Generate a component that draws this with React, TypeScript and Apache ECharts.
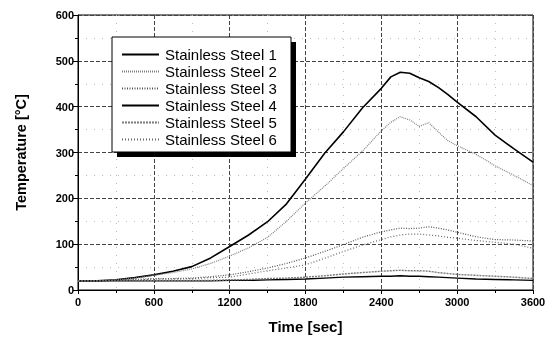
import React, { useEffect, useRef } from "react";
import * as echarts from "echarts";

const times = [0, 150, 300, 450, 600, 750, 900, 1050, 1200, 1350, 1500, 1650, 1800, 1950, 2100, 2250, 2400, 2475, 2550, 2625, 2700, 2775, 2850, 2925, 3000, 3150, 3300, 3450, 3600];
const ss1 = [20, 20, 22, 27, 33, 41, 51, 70, 95, 120, 149, 188, 242, 298, 345, 397, 440, 465, 475, 473, 463, 455, 442, 427, 410, 378, 338, 308, 279];
const ss2 = [20, 20, 22, 26, 32, 38, 46, 58, 74, 92, 115, 150, 190, 226, 265, 303, 347, 366, 378, 371, 357, 365, 345, 326, 315, 296, 271, 250, 228];
const ss3 = [20, 20, 21, 23, 25, 25, 26, 29, 33, 40, 48, 58, 70, 84, 99, 115, 127, 131, 135, 134, 135, 138, 135, 131, 126, 116, 110, 109, 107];
const ss4 = [20, 20, 20, 20, 20, 20, 20, 20, 21, 21, 22, 23, 24, 26, 28, 29, 30, 30, 31, 30, 30, 29, 28, 27, 26, 24, 23, 22, 21];
const ss5 = [20, 20, 20, 20, 21, 21, 21, 21, 22, 23, 25, 26, 28, 31, 35, 38, 41, 42, 43, 42, 42, 41, 38, 36, 34, 32, 30, 28, 25];
const ss6 = [20, 20, 21, 22, 24, 24, 25, 27, 28, 35, 42, 48, 55, 69, 84, 98, 110, 116, 120, 122, 122, 120, 118, 115, 113, 108, 104, 100, 91];

const names = ["Stainless Steel 1", "Stainless Steel 2", "Stainless Steel 3", "Stainless Steel 4", "Stainless Steel 5", "Stainless Steel 6"];
const values = [ss1, ss2, ss3, ss4, ss5, ss6];

const FONT = "'Liberation Sans', Arial, sans-serif";

export default function App() {
  const ref = useRef<HTMLDivElement>(null);
  useEffect(() => {
    document.body.style.margin = "0";
    const chart = echarts.init(ref.current!, undefined, { renderer: "svg" });
    const styles = [
      { color: "#000", width: 1.6, type: "solid" },
      { color: "#808080", width: 1.2, type: [1, 1] },
      { color: "#555", width: 1.2, type: [1, 1.5] },
      { color: "#000", width: 1.4, type: "solid" },
      { color: "#7a7a7a", width: 1.4, type: [2, 1] },
      { color: "#666", width: 1.2, type: [1, 2] },
    ];
    const series = names.map((n, i) => ({
      name: n,
      type: "line",
      symbol: "none",
      z: 2,
      data: times.map((t, j) => [t, values[i][j]]),
      lineStyle: styles[i],
      itemStyle: { color: styles[i].color },
    }));
    chart.setOption({
      animation: false,
      textStyle: { fontFamily: FONT },
      grid: { left: 78, right: 27, top: 15, bottom: 47, show: true, borderColor: "#000", borderWidth: 1, backgroundColor: "transparent" },
      xAxis: {
        type: "value",
        min: 0,
        max: 3600,
        interval: 600,
        name: "Time [sec]",
        nameLocation: "middle",
        nameGap: 29,
        nameTextStyle: { fontSize: 15, fontWeight: "bold", color: "#000", fontFamily: FONT },
        axisLine: { lineStyle: { color: "#000", width: 1 } },
        axisTick: { show: true, inside: false, length: 4, lineStyle: { color: "#000" } },
        minorTick: { show: true, splitNumber: 2, length: 3, lineStyle: { color: "#000" } },
        axisLabel: { fontSize: 11, fontWeight: "bold", color: "#000", margin: 6, fontFamily: FONT, formatter: (v: number) => String(v) },
        splitLine: { show: true, lineStyle: { color: "#444", type: [4, 2], width: 1 } },
        minorSplitLine: { show: true, lineStyle: { color: "#bbb", type: [1, 7], width: 1 } },
      },
      yAxis: {
        type: "value",
        min: 0,
        max: 600,
        interval: 100,
        name: "Temperature [°C]",
        nameLocation: "middle",
        nameGap: 50,
        nameTextStyle: { fontSize: 14.5, fontWeight: "bold", color: "#000", fontFamily: FONT },
        axisLine: { show: true, lineStyle: { color: "#000", width: 1 } },
        axisTick: { show: true, inside: false, length: 5, lineStyle: { color: "#000" } },
        minorTick: { show: true, splitNumber: 2, length: 3, lineStyle: { color: "#000" } },
        axisLabel: { fontSize: 11, fontWeight: "bold", color: "#000", margin: 4, fontFamily: FONT, formatter: (v: number) => String(v) },
        splitLine: { show: true, lineStyle: { color: "#444", type: [4, 2], width: 1 } },
        minorSplitLine: { show: true, lineStyle: { color: "#bbb", type: [1, 7], width: 1 } },
      },
      legend: {
        orient: "vertical",
        left: 121,
        top: 47,
        padding: 0,
        itemWidth: 37,
        itemHeight: 14,
        itemGap: 2,
        z: 5,
        itemStyle: { opacity: 0 },
        textStyle: { fontSize: 15, color: "#000", fontFamily: FONT, padding: [0, 0, 0, 1] },
        data: names,
      },
      graphic: [
        { type: "rect", z: 4, shape: { x: 117, y: 42, width: 179, height: 115 }, style: { fill: "#000" } },
        { type: "rect", z: 4, shape: { x: 112, y: 37, width: 179, height: 115 }, style: { fill: "#fff", stroke: "#000", lineWidth: 1 } },
      ],
      series,
    });
    return () => chart.dispose();
  }, []);
  return <div ref={ref} style={{ position: "fixed", left: 0, top: 0, width: 560, height: 339 }} />;
}
